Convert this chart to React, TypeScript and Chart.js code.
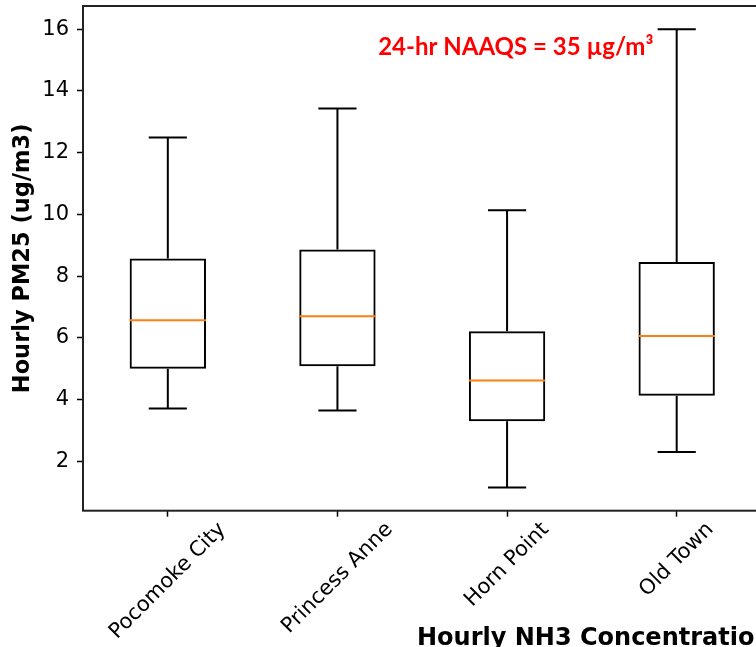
import React, { useEffect, useRef } from 'react';
import { Chart, registerables } from 'chart.js';

Chart.register(...registerables);

// ---- data ----
const categories = ['Pocomoke City', 'Princess Anne', 'Horn Point', 'Old Town'];
const whiskerLow = [3.71, 3.65, 1.15, 2.3];
const q1Values = [5.0, 5.08, 3.3, 4.12];
const medianValues = [6.57, 6.7, 4.62, 6.06];
const q3Values = [8.57, 8.86, 6.21, 8.46];
const whiskerHigh = [12.49, 13.43, 10.13, 16.0];
const yTicks = [2, 4, 6, 8, 10, 12, 14, 16];
const yTitle = 'Hourly PM25 (ug/m3)';
const xTitle = 'Hourly NH3 Concentration';
const annotationText = '24-hr NAAQS = 35 µg/m³';

// ---- layout / style constants ----
const CANVAS_W = 800;
const CANVAS_H = 647;
const Y_MIN = 0.4;
const Y_MAX = 16.75;
const ANNOT_X = 1.24; // in category-index units
const ANNOT_Y = 15.16;
const LINE = '#000000';
const MEDIAN = '#ff7f0e';

const boxPlugin = {
  id: 'boxExtras',
  afterDatasetsDraw(chart: any) {
    const ctx = chart.ctx;
    const xs = chart.scales.x;
    const ys = chart.scales.y;
    const meta = chart.getDatasetMeta(0);
    ctx.save();
    ctx.lineWidth = 2;
    categories.forEach((_, i) => {
      const x = xs.getPixelForValue(i);
      const half = meta.data[i].width / 2;
      const capHalf = half / 2;
      const yLow = ys.getPixelForValue(whiskerLow[i]);
      const yQ1 = ys.getPixelForValue(q1Values[i]);
      const yQ3 = ys.getPixelForValue(q3Values[i]);
      const yHigh = ys.getPixelForValue(whiskerHigh[i]);
      ctx.strokeStyle = LINE;
      ctx.beginPath();
      ctx.moveTo(x, yQ3);
      ctx.lineTo(x, yHigh);
      ctx.moveTo(x, yQ1);
      ctx.lineTo(x, yLow);
      ctx.moveTo(x - capHalf, yHigh);
      ctx.lineTo(x + capHalf, yHigh);
      ctx.moveTo(x - capHalf, yLow);
      ctx.lineTo(x + capHalf, yLow);
      ctx.stroke();
      const yMed = ys.getPixelForValue(medianValues[i]);
      ctx.strokeStyle = MEDIAN;
      ctx.beginPath();
      ctx.moveTo(x - half, yMed);
      ctx.lineTo(x + half, yMed);
      ctx.stroke();
    });
    ctx.restore();
  },
  afterDraw(chart: any) {
    const ctx = chart.ctx;
    const area = chart.chartArea;
    const xs = chart.scales.x;
    const ys = chart.scales.y;
    ctx.save();
    // frame (spines)
    ctx.lineWidth = 2;
    ctx.strokeStyle = '#222222';
    ctx.strokeRect(area.left, area.top, area.right - area.left, area.bottom - area.top);

    // rotated, centred x tick labels
    const fs = 21;
    ctx.font = `${fs}px "DejaVu Sans"`;
    ctx.fillStyle = '#000';
    ctx.textAlign = 'center';
    ctx.textBaseline = 'middle';
    categories.forEach((label, i) => {
      const cx = xs.getPixelForValue(i);
      const w = ctx.measureText(label).width;
      const h = fs * 1.16;
      const halfH = ((w + h) * Math.SQRT1_2) / 2;
      const cy = area.bottom + 7 + halfH;
      ctx.save();
      ctx.translate(cx, cy);
      ctx.rotate(-Math.PI / 4);
      ctx.fillText(label, 0, 0);
      ctx.restore();
    });

    // x axis title
    ctx.font = 'bold 24px "DejaVu Sans"';
    ctx.textAlign = 'left';
    ctx.textBaseline = 'alphabetic';
    ctx.fillStyle = '#000';
    ctx.fillText(xTitle, area.left + 334, area.bottom + 134);

    // annotation
    ctx.font = 'bold 24px Lato';
    ctx.fillStyle = '#ff0000';
    ctx.fillText(annotationText, xs.getPixelForValue(ANNOT_X), ys.getPixelForValue(ANNOT_Y));
    ctx.restore();
  },
};

export default function App() {
  const ref = useRef<HTMLCanvasElement | null>(null);

  useEffect(() => {
    if (!ref.current) return;
    const chart = new Chart(ref.current, {
      type: 'bar',
      data: {
        labels: categories,
        datasets: [
          {
            data: categories.map((_, i) => [q1Values[i], q3Values[i]]) as any,
            backgroundColor: 'rgba(0,0,0,0)',
            borderColor: LINE,
            borderWidth: 2,
            borderSkipped: false,
            barPercentage: 0.45,
            categoryPercentage: 1.0,
          },
        ],
      },
      options: {
        responsive: false,
        animation: false,
        layout: { padding: { left: 0, top: 6, right: CANVAS_W - 761.5, bottom: 0 } },
        plugins: { legend: { display: false }, tooltip: { enabled: false } },
        scales: {
          x: {
            type: 'category',
            offset: true,
            grid: {
              display: true,
              offset: false,
              drawOnChartArea: false,
              drawTicks: true,
              tickLength: 6,
              tickColor: '#000',
              tickWidth: 1.5,
            },
            border: { display: false },
            ticks: { display: false },
            afterFit: (s: any) => {
              s.height = 136.3;
              s.paddingLeft = 0;
              s.paddingRight = 0;
            },
          },
          y: {
            type: 'linear',
            min: Y_MIN,
            max: Y_MAX,
            afterBuildTicks: (s: any) => {
              s.ticks = yTicks.map((v) => ({ value: v }));
            },
            grid: {
              display: true,
              drawOnChartArea: false,
              drawTicks: true,
              tickLength: 6,
              tickColor: '#000',
              tickWidth: 1.5,
            },
            border: { display: false },
            ticks: {
              font: { family: 'DejaVu Sans', size: 21 },
              color: '#000',
              padding: 8,
            },
            title: {
              display: true,
              text: yTitle,
              color: '#000',
              font: { family: 'DejaVu Sans', size: 22.5, weight: 'bold' },
              padding: { top: 10, bottom: 0 },
            },
            afterFit: (s: any) => {
              s.width = 83;
              s.paddingTop = 0;
              s.paddingBottom = 0;
            },
          },
        },
      },
      plugins: [boxPlugin],
    });
    return () => chart.destroy();
  }, []);

  return (
    <div
      style={{
        position: 'absolute',
        left: 0,
        top: 0,
        width: 756,
        height: 647,
        overflow: 'hidden',
        background: '#fff',
      }}
    >
      <canvas ref={ref} width={CANVAS_W} height={CANVAS_H} style={{ display: 'block' }} />
    </div>
  );
}
